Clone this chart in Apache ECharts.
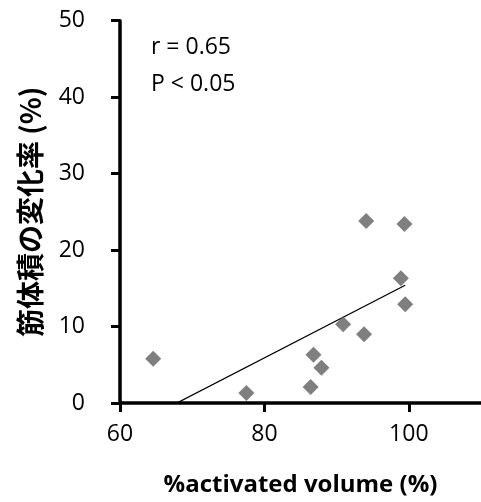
<!DOCTYPE html>
<html><head><meta charset="utf-8">
<script src="https://cdn.jsdelivr.net/npm/echarts@6/dist/echarts.min.js"></script>
<style>html,body{margin:0;padding:0;background:#fff}#c{width:481px;height:502px}</style>
</head><body><div id="c"></div>
<script>
const xValues = [64.6, 77.5, 86.4, 86.8, 87.9, 90.9, 93.8, 94.1, 99.4, 98.9, 99.5];
const yValues = [5.8, 1.3, 2.1, 6.3, 4.6, 10.3, 9.0, 23.8, 23.4, 16.3, 12.9];
const trendX = [64.6, 99.5];
const trendY = [-1.6, 15.4];
const xTicks = [60, 80, 100];
const yTicks = [0, 10, 20, 30, 40, 50];
const xTitle = '%activated volume (%)';
const yTitle = '筋体積の変化率 (%)';
const statsText = ['r = 0.65', 'P < 0.05'];

const font = '"Open Sans", "Noto Sans CJK JP", sans-serif';
const cjkFont = '"Noto Sans CJK JP", "Open Sans", sans-serif';
const chart = echarts.init(document.getElementById('c'), null, {renderer: 'canvas'});
const axisLine = {lineStyle: {color: '#000', width: 3.5}};
chart.setOption({
  animation: false,
  backgroundColor: '#fff',
  grid: {left: 120, right: -5, top: 20.7, bottom: 95.5, containLabel: false},
  xAxis: {
    type: 'value', min: 60, max: 110, interval: 20,
    splitLine: {show: false},
    axisLine: axisLine,
    axisTick: {show: true, inside: false, length: 9, lineStyle: {color: '#000', width: 3}, customValues: xTicks},
    axisLabel: {color: '#000', fontSize: 23, fontFamily: font, margin: 20, customValues: xTicks},
    name: xTitle, nameLocation: 'middle', nameGap: 70,
    nameTextStyle: {color: '#000', fontSize: 24, fontWeight: 'bold', fontFamily: font}
  },
  yAxis: {
    type: 'value', min: 0, max: 50, interval: 10,
    splitLine: {show: false},
    axisLine: axisLine,
    axisTick: {show: true, inside: false, length: 9, lineStyle: {color: '#000', width: 3}, customValues: yTicks},
    axisLabel: {color: '#000', fontSize: 23, fontFamily: font, margin: 35, customValues: yTicks},
    name: yTitle, nameLocation: 'middle', nameGap: 76,
    nameTextStyle: {color: '#000', fontSize: 28, fontWeight: 'bold', fontFamily: cjkFont}
  },
  graphic: [{
    type: 'text', left: 151, top: 29,
    style: {text: statsText.join('\n'), font: '23px ' + font, fill: '#000', lineHeight: 37}
  }],
  series: [{
    type: 'line', data: trendX.map((x, i) => [x, trendY[i]]),
    symbol: 'none', clip: true, lineStyle: {color: '#000', width: 1.3}, z: 1
  }, {
    type: 'scatter', data: xValues.map((x, i) => [x, yValues[i]]),
    symbol: 'diamond', symbolSize: 16, itemStyle: {color: '#5f5f5f'}, z: 2
  }]
});
</script></body></html>
